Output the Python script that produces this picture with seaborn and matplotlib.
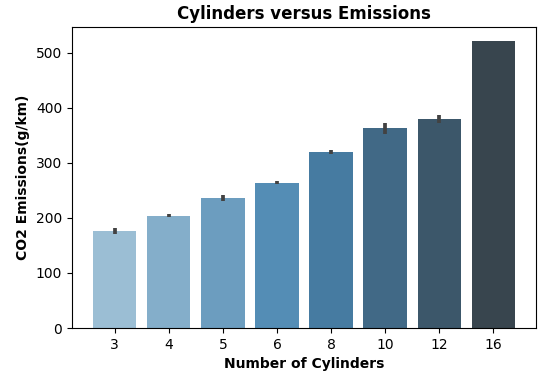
import matplotlib
matplotlib.use("Agg")
import matplotlib.pyplot as plt
import seaborn as sns
import pandas as pd

# Mean CO2 emissions per cylinder count, with 95% CI bounds
cylinders = ["3", "4", "5", "6", "8", "10", "12", "16"]
mean_emissions = [176, 204, 236, 264, 320, 363, 380, 521]
ci_low = [171, 201, 231, 261, 317, 353, 373, 521]
ci_high = [181, 207, 241, 267, 323, 373, 387, 521]

df = pd.DataFrame({"Cylinders": cylinders, "CO2": mean_emissions})

fig, ax = plt.subplots(figsize=(5.38, 3.74), dpi=100)
fig.subplots_adjust(left=72 / 538, right=536 / 538, top=1 - 27 / 374, bottom=1 - 328 / 374)

sns.barplot(data=df, x="Cylinders", y="CO2", hue="Cylinders", order=cylinders,
            palette="Blues_d", legend=False, errorbar=None, ax=ax)

# Confidence intervals drawn at each category position
for i, (lo, hi) in enumerate(zip(ci_low, ci_high)):
    if hi > lo:
        ax.plot([i, i], [lo, hi], color=".26", linewidth=2.7, solid_capstyle="butt")

ax.set_title("Cylinders versus Emissions", fontsize=12, fontweight="bold")
ax.set_xlabel("Number of Cylinders", fontsize=10, fontweight="bold")
ax.set_ylabel("CO2 Emissions(g/km)", fontsize=10, fontweight="bold")

fig.savefig("out.png", dpi=100)
